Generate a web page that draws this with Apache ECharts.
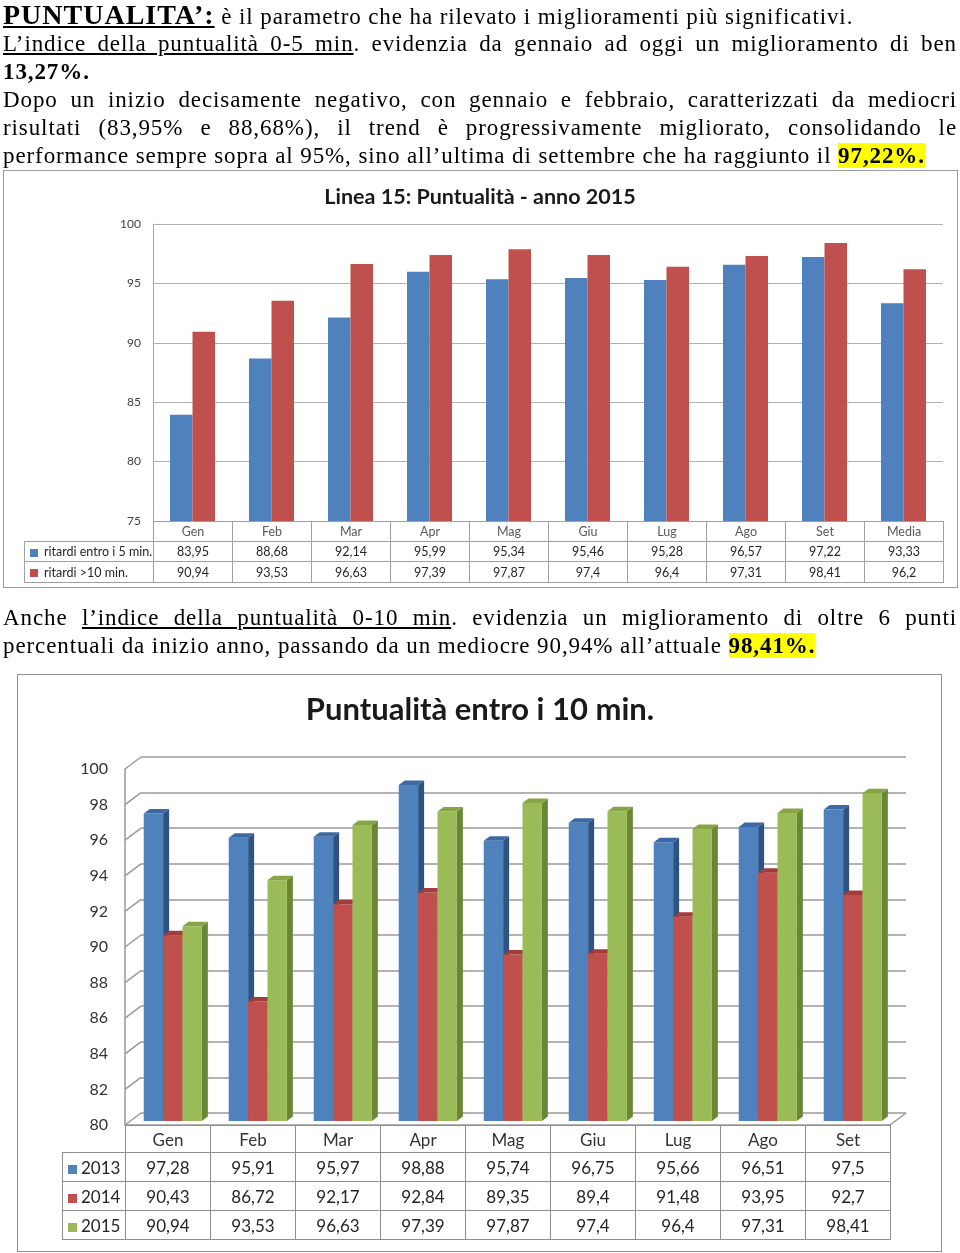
<!DOCTYPE html>
<html lang="it"><head><meta charset="utf-8">
<title>Puntualità</title>
<script src="https://cdn.jsdelivr.net/npm/echarts/dist/echarts.min.js"></script>
<style>
html,body{margin:0;padding:0;background:#fff;}
body{width:960px;height:1253px;position:relative;overflow:hidden;}
#chart{position:absolute;left:0;top:0;width:960px;height:1253px;z-index:2;}
.txt{position:absolute;left:3px;width:954px;font-family:"Liberation Serif",serif;font-size:23px;letter-spacing:0.9px;color:#000;z-index:3;}
.ln{height:28px;line-height:28px;}
.first{height:30px;line-height:30px;white-space:nowrap;}
.j{text-align:justify;text-align-last:justify;}
.l{text-align:left;white-space:nowrap;}
.head{font-weight:bold;font-size:28px;letter-spacing:1px;text-decoration:underline;}
.u{text-decoration:underline;}
.b{font-weight:bold;}
.hl{font-weight:bold;background:#ffff00;}
.box{position:absolute;border:1px solid #9a9a9a;z-index:1;background:#fff;}
table.t{position:absolute;border-collapse:collapse;table-layout:fixed;font-family:Lato,sans-serif;z-index:3;}
table.t td{border:1px solid #9c9c9c;padding:0;text-align:center;overflow:hidden;white-space:nowrap;}
table.t td.blank{border:none;}
table.t td.leg{text-align:left;}
.sq{display:inline-block;vertical-align:middle;}
</style>
</head>
<body>
<div class="txt" style="top:0;">
  <div class="first"><span class="head">PUNTUALITA’:</span> è il parametro che ha rilevato i miglioramenti più significativi.</div>
  <div class="ln j"><span class="u">L’indice della puntualità 0-5 min</span>. evidenzia da gennaio ad oggi un miglioramento di ben</div>
  <div class="ln l"><span class="b">13,27%.</span></div>
  <div class="ln j">Dopo un inizio decisamente negativo, con gennaio e febbraio, caratterizzati da mediocri</div>
  <div class="ln j">risultati (83,95% e 88,68%), il trend è progressivamente migliorato, consolidando le</div>
  <div class="ln l">performance sempre sopra al 95%, sino all’ultima di settembre che ha raggiunto il <span class="hl">97,22%.</span></div>
</div>
<div class="txt" style="top:604px;">
  <div class="ln j">Anche <span class="u">l’indice della puntualità 0-10 min</span>. evidenzia un miglioramento di oltre 6 punti</div>
  <div class="ln l">percentuali da inizio anno, passando da un mediocre 90,94% all’attuale <span class="hl">98,41%.</span></div>
</div>

<div class="box" style="left:3px;top:170px;width:953px;height:416px;"></div>
<div class="box" style="left:17px;top:674px;width:923px;height:576px;border-color:#8f8f8f;"></div>

<div id="chart"></div>
<table class="t" id="tab1"></table>
<table class="t" id="tab2"></table>

<script>
// ---------- Data ----------
const months1 = ['Gen','Feb','Mar','Apr','Mag','Giu','Lug','Ago','Set','Media'];
const entro5  = [83.95, 88.68, 92.14, 95.99, 95.34, 95.46, 95.28, 96.57, 97.22, 93.33];
const oltre10 = [90.94, 93.53, 96.63, 97.39, 97.87, 97.4, 96.4, 97.31, 98.41, 96.2];
const names1  = ['ritardi entro i 5 min.', 'ritardi >10 min.'];
const yTicks1 = [75, 80, 85, 90, 95, 100];

const months2 = ['Gen','Feb','Mar','Apr','Mag','Giu','Lug','Ago','Set'];
const y2013 = [97.28, 95.91, 95.97, 98.88, 95.74, 96.75, 95.66, 96.51, 97.5];
const y2014 = [90.43, 86.72, 92.17, 92.84, 89.35, 89.4, 91.48, 93.95, 92.7];
const y2015 = [90.94, 93.53, 96.63, 97.39, 97.87, 97.4, 96.4, 97.31, 98.41];
const years = ['2013', '2014', '2015'];
const yTicks2 = [80, 82, 84, 86, 88, 90, 92, 94, 96, 98, 100];

// ---------- Style ----------
const FONT = 'Lato, sans-serif';
const col1 = ['#4F81BD', '#C0504D'];
const col3 = [
  {front:'#4F81BD', side:'#2F5283', top:'#3C69A4'},
  {front:'#C0504D', side:'#8A302D', top:'#A43D3A'},
  {front:'#9BBB59', side:'#6A8735', top:'#87A545'}
];
const BACK_DX = 16, BACK_DY = -12;
const PLANE_DX = 5.3, PLANE_DY = -4;
const DEPTH_DX = 6, DEPTH_DY = -4.5;
const fmt = v => String(v).replace('.', ',');

// ---------- Tables ----------
function buildTable(el, opt) {
  const {left, top, legW, colW, rowH, cats, rows, fontSize, headColor, valColor, sq, border} = opt;
  let h = '<colgroup><col style="width:' + legW + 'px">';
  cats.forEach(() => h += '<col style="width:' + colW + 'px">');
  h += '</colgroup>';
  h += '<tr style="height:' + rowH[0] + 'px"><td class="blank"></td>';
  cats.forEach(c => h += '<td style="color:' + headColor + ';border-color:' + border + '">' + c + '</td>');
  h += '</tr>';
  rows.forEach((r, ri) => {
    h += '<tr style="height:' + rowH[ri + 1] + 'px"><td class="leg" style="border-color:' + border + ';color:' + valColor + ';' + (r.legStyle || '') + '">' +
      '<span class="sq" style="width:' + sq + 'px;height:' + sq + 'px;background:' + r.color + ';margin:0 ' + r.gap + 'px 0 ' + r.pad + 'px"></span>' + r.name + '</td>';
    r.values.forEach(v => h += '<td style="color:' + valColor + ';border-color:' + border + '">' + fmt(v) + '</td>');
    h += '</tr>';
  });
  el.innerHTML = h;
  el.style.left = left + 'px';
  el.style.top = top + 'px';
  el.style.fontSize = fontSize + 'px';
  el.style.width = (legW + colW * cats.length) + 'px';
}
buildTable(document.getElementById('tab1'), {
  left: 24, top: 521, legW: 129, colW: 79, rowH: [20, 20, 21], cats: months1, fontSize: 12.5,
  headColor: '#595959', valColor: '#262626', sq: 8, border: '#a0a0a0',
  rows: [
    {name: names1[0], values: entro5, color: col1[0], pad: 5, gap: 6, legStyle: 'font-size:12.5px;'},
    {name: names1[1], values: oltre10, color: col1[1], pad: 5, gap: 6, legStyle: 'font-size:12.5px;'}
  ]
});
buildTable(document.getElementById('tab2'), {
  left: 62, top: 1125, legW: 63, colW: 85, rowH: [27, 29, 29, 29], cats: months2, fontSize: 17,
  headColor: '#333', valColor: '#262626', sq: 9, border: '#8f8f8f',
  rows: [
    {name: years[0], values: y2013, color: col3[0].front, pad: 5, gap: 4},
    {name: years[1], values: y2014, color: col3[1].front, pad: 5, gap: 4},
    {name: years[2], values: y2015, color: col3[2].front, pad: 5, gap: 4}
  ]
});

// ---------- Chart ----------
const chart = echarts.init(document.getElementById('chart'));

function bar3d(k) {
  return function (params, api) {
    const i = api.value(0), v = api.value(1);
    const t = api.coord([i, v]), b = api.coord([i, yTicks2[0]]);
    const band = api.size([1, 0])[0];
    const bw = band * 0.228;
    const cx = t[0] + PLANE_DX + (k - 1) * bw;
    const x0 = cx - bw / 2, x1 = cx + bw / 2;
    const yt = t[1] + PLANE_DY, yb = b[1] + PLANE_DY;
    const c = col3[k];
    return {type: 'group', children: [
      {type: 'polygon', shape: {points: [[x1, yt], [x1 + DEPTH_DX, yt + DEPTH_DY], [x1 + DEPTH_DX, yb + DEPTH_DY], [x1, yb]]}, style: {fill: c.side}},
      {type: 'rect', shape: {x: x0, y: yt, width: bw, height: yb - yt}, style: {fill: c.front}},
      {type: 'polygon', shape: {points: [[x0, yt], [x1, yt], [x1 + DEPTH_DX, yt + DEPTH_DY], [x0 + DEPTH_DX, yt + DEPTH_DY]]}, style: {fill: c.top}}
    ]};
  };
}

const wallStyle = {stroke: '#9a9a9a', lineWidth: 1.5};
function wall(params, api) {
  const v = api.value(1);
  const p = api.coord([0, v]);
  const band = api.size([1, 0])[0];
  const lx = p[0] - band / 2;
  const children = [{type: 'line', shape: {x1: lx, y1: p[1], x2: lx + BACK_DX, y2: p[1] + BACK_DY}, style: wallStyle}];
  if (v === yTicks2[0]) {
    const rx = api.coord([months2.length - 1, v])[0] + band / 2;
    children.push({type: 'line', shape: {x1: rx, y1: p[1], x2: rx + BACK_DX, y2: p[1] + BACK_DY}, style: wallStyle});
  }
  return {type: 'group', children};
}

const option = {
  animation: false,
  textStyle: {fontFamily: FONT},
  title: [
    {text: 'Linea 15: Puntualità - anno 2015', left: 'center', top: 181,
     textStyle: {fontFamily: FONT, fontWeight: 'bold', fontSize: 21.5, color: '#1a1a1a'}},
    {text: 'Puntualità entro i 10 min.', left: 'center', top: 689,
     textStyle: {fontFamily: FONT, fontWeight: 'bold', fontSize: 31, color: '#1a1a1a'}}
  ],
  grid: [
    {left: 153, top: 224, width: 790, height: 297},
    {left: 125 + BACK_DX, top: 769 + BACK_DY, width: 765, height: 356},
    {left: 125, top: 769, width: 765, height: 356}
  ],
  xAxis: [
    {gridIndex: 0, type: 'category', data: months1, axisLabel: {show: false}, axisTick: {show: false}, axisLine: {show: false}},
    {gridIndex: 1, type: 'category', data: months2, axisLabel: {show: false}, axisTick: {show: false}, axisLine: {show: false}},
    {gridIndex: 2, type: 'category', data: months2, axisLabel: {show: false}, axisTick: {show: false},
     axisLine: {show: true, lineStyle: {color: '#9a9a9a', width: 1.5}}}
  ],
  yAxis: [
    {gridIndex: 0, type: 'value', min: yTicks1[0], max: yTicks1[yTicks1.length - 1], interval: yTicks1[1] - yTicks1[0],
     axisLine: {show: true, lineStyle: {color: '#a8a8a8'}}, axisTick: {show: false},
     axisLabel: {fontSize: 12, color: '#404040', margin: 12, fontFamily: FONT},
     splitLine: {lineStyle: {color: '#b0b0b0'}}},
    {gridIndex: 1, type: 'value', min: yTicks2[0], max: yTicks2[yTicks2.length - 1], interval: yTicks2[1] - yTicks2[0],
     axisLine: {show: false}, axisTick: {show: false}, axisLabel: {show: false},
     splitLine: {lineStyle: {color: '#9a9a9a', width: 1.5}}},
    {gridIndex: 2, type: 'value', min: yTicks2[0], max: yTicks2[yTicks2.length - 1], interval: yTicks2[1] - yTicks2[0],
     axisLine: {show: true, lineStyle: {color: '#9a9a9a', width: 1.5}}, axisTick: {show: false},
     axisLabel: {fontSize: 16, color: '#333', margin: 17, fontFamily: FONT},
     splitLine: {show: false}}
  ],
  series: [
    {name: names1[0], type: 'bar', xAxisIndex: 0, yAxisIndex: 0, data: entro5, barWidth: 22.5, barGap: '0%',
     itemStyle: {color: col1[0]}},
    {name: names1[1], type: 'bar', xAxisIndex: 0, yAxisIndex: 0, data: oltre10, barWidth: 22.5, barGap: '0%',
     itemStyle: {color: col1[1]}},
    {type: 'custom', xAxisIndex: 2, yAxisIndex: 2, clip: false, silent: true, z: 1,
     data: yTicks2.map(v => [0, v]), encode: {x: 0, y: 1}, renderItem: wall},
    {name: years[0], type: 'custom', xAxisIndex: 2, yAxisIndex: 2, clip: false, z: 3,
     data: y2013.map((v, i) => [i, v]), encode: {x: 0, y: 1}, renderItem: bar3d(0)},
    {name: years[1], type: 'custom', xAxisIndex: 2, yAxisIndex: 2, clip: false, z: 3,
     data: y2014.map((v, i) => [i, v]), encode: {x: 0, y: 1}, renderItem: bar3d(1)},
    {name: years[2], type: 'custom', xAxisIndex: 2, yAxisIndex: 2, clip: false, z: 3,
     data: y2015.map((v, i) => [i, v]), encode: {x: 0, y: 1}, renderItem: bar3d(2)}
  ]
};
chart.setOption(option);
</script>
</body></html>
